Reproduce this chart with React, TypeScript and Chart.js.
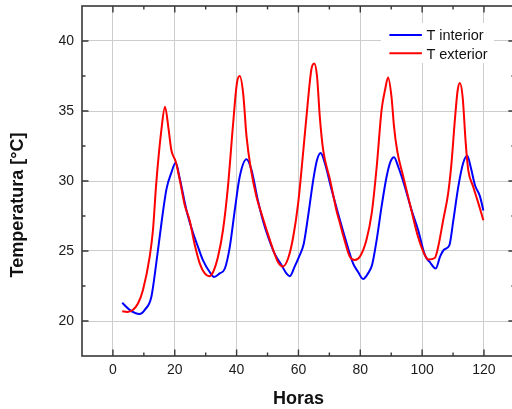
import React, { useEffect, useRef } from "react";
import { Chart, registerables } from "chart.js";

Chart.register(...registerables);

const interiorHours = [3.0, 5.4, 8.6, 10.3, 12.4, 14.0, 15.7, 17.3, 18.9, 20.3, 21.6, 23.8, 25.9, 27.5, 29.1, 31.3, 32.7, 34.5, 36.2, 37.8, 39.4, 41.0, 43.2, 44.8, 46.9, 48.6, 50.2, 52.3, 54.5, 56.1, 57.2, 58.8, 60.2, 61.7, 63.1, 64.8, 66.0, 67.2, 68.5, 70.7, 72.8, 75.0, 77.7, 79.3, 80.9, 82.5, 83.8, 85.3, 86.9, 88.5, 89.8, 90.9, 92.3, 94.4, 96.6, 98.7, 100.9, 102.5, 104.4, 105.8, 107.1, 108.8, 110.1, 111.7, 113.3, 114.6, 115.7, 117.1, 118.7, 119.8];
const interiorTemps = [21.3, 20.8, 20.5, 20.8, 21.7, 24.1, 27.0, 29.4, 30.6, 31.3, 30.2, 27.9, 26.3, 25.3, 24.35, 23.5, 23.15, 23.4, 23.75, 25.3, 27.9, 30.3, 31.55, 30.8, 28.6, 27.1, 26.0, 24.8, 24.0, 23.4, 23.2, 23.9, 24.6, 25.5, 27.45, 30.1, 31.5, 32.0, 31.3, 29.4, 27.7, 26.0, 24.1, 23.5, 23.0, 23.4, 24.0, 25.8, 28.2, 30.3, 31.4, 31.7, 31.0, 29.6, 27.9, 26.5, 24.7, 24.2, 23.75, 24.6, 25.1, 25.4, 27.2, 29.6, 31.3, 31.8, 31.0, 29.7, 28.9, 27.9];

const exteriorHours = [3.0, 4.6, 6.5, 8.1, 9.7, 11.9, 12.95, 14.0, 15.7, 16.85, 18.0, 18.9, 20.3, 21.6, 23.2, 24.8, 26.4, 28.1, 29.7, 31.1, 32.4, 34.0, 35.6, 37.2, 38.8, 40.1, 41.0, 42.1, 43.2, 44.5, 46.4, 48.0, 49.7, 51.8, 53.4, 55.0, 56.7, 58.3, 59.9, 61.5, 63.1, 64.2, 65.1, 66.0, 66.9, 68.0, 70.2, 72.3, 73.4, 75.0, 76.6, 78.2, 79.9, 82.0, 83.7, 85.3, 86.9, 88.0, 89.0, 90.1, 90.9, 91.9, 93.9, 96.0, 98.7, 100.9, 102.0, 104.1, 105.2, 106.8, 108.4, 109.5, 110.6, 111.5, 112.2, 113.1, 114.1, 114.9, 116.5, 118.2, 119.8];
const exteriorTemps = [20.7, 20.65, 20.8, 21.25, 22.2, 24.6, 26.5, 29.8, 33.7, 35.3, 33.7, 32.2, 31.4, 30.1, 28.3, 27.2, 25.5, 24.1, 23.4, 23.2, 23.5, 24.6, 26.5, 29.6, 33.9, 37.0, 37.5, 36.3, 33.2, 31.0, 28.9, 27.7, 26.5, 25.1, 24.2, 23.9, 24.5, 26.0, 28.4, 32.0, 35.8, 38.0, 38.4, 37.5, 34.6, 32.2, 30.1, 27.9, 27.0, 25.7, 24.6, 24.35, 24.6, 25.8, 27.7, 31.0, 35.1, 36.5, 37.4, 36.0, 33.9, 32.2, 30.3, 28.4, 26.0, 24.7, 24.4, 24.5, 25.3, 27.2, 29.1, 31.3, 34.4, 36.5, 37.0, 36.0, 32.7, 30.8, 29.6, 28.4, 27.2];

const xTickValues = [0, 20, 40, 60, 80, 100, 120];
const xMinorValues = [10, 30, 50, 70, 90, 110];
const yTickValues = [20, 25, 30, 35, 40];
const yMinorValues = [22.5, 27.5, 32.5, 37.5];
const seriesLabels = ["T interior", "T exterior"];
const seriesColors = ["#0000ff", "#ff0000"];
const xTitle = "Horas";
const yTitle = "Temperatura [°C]";

const FONT = "'Liberation Sans', Arial, sans-serif";

const framePlugin = {
  id: "frameAndLegend",
  afterDatasetsDraw(chart: any) {
    const { ctx, chartArea: a, scales } = chart;
    const x = scales.x;
    const y = scales.y;
    ctx.save();

    // legend box
    ctx.fillStyle = "#ffffff";
    ctx.fillRect(a.right - 134, 23, 113, 40);
    ctx.font = `14.5px ${FONT}`;
    ctx.textAlign = "left";
    ctx.textBaseline = "alphabetic";
    const rows = [35, 53.3];
    for (let i = 0; i < 2; i++) {
      ctx.strokeStyle = seriesColors[i];
      ctx.lineWidth = 2;
      ctx.beginPath();
      ctx.moveTo(a.right - 125.5, rows[i]);
      ctx.lineTo(a.right - 93, rows[i]);
      ctx.stroke();
      ctx.fillStyle = "#111111";
      ctx.fillText(seriesLabels[i], a.right - 88.5, rows[i] + 5.4);
    }

    // frame
    ctx.strokeStyle = "#383838";
    ctx.lineWidth = 1.6;
    ctx.strokeRect(a.left, a.top, a.right - a.left, a.bottom - a.top);

    const major = 6.5;
    const minor = 3.5;
    ctx.lineWidth = 1.4;
    ctx.beginPath();
    const xt = (v: number, len: number) => {
      const px = x.getPixelForValue(v);
      ctx.moveTo(px, a.bottom);
      ctx.lineTo(px, a.bottom - len);
      ctx.moveTo(px, a.top);
      ctx.lineTo(px, a.top + len);
    };
    const yt = (v: number, len: number) => {
      const py = y.getPixelForValue(v);
      ctx.moveTo(a.left, py);
      ctx.lineTo(a.left + len, py);
      ctx.moveTo(a.right, py);
      ctx.lineTo(a.right - len, py);
    };
    xTickValues.forEach((v) => xt(v, major));
    xMinorValues.forEach((v) => xt(v, minor));
    yTickValues.forEach((v) => yt(v, major));
    yMinorValues.forEach((v) => yt(v, minor));
    ctx.stroke();

    // axis titles
    ctx.fillStyle = "#111111";
    ctx.font = `bold 18px ${FONT}`;
    ctx.textAlign = "center";
    ctx.textBaseline = "alphabetic";
    ctx.fillText(xTitle, (a.left + a.right) / 2, 404);
    ctx.translate(23.3, 205);
    ctx.rotate(-Math.PI / 2);
    ctx.fillText(yTitle, 0, 0);
    ctx.restore();
  },
};

export default function App() {
  const ref = useRef<HTMLCanvasElement>(null);

  useEffect(() => {
    const canvas = ref.current;
    if (!canvas) return;
    const chart = new Chart(canvas, {
      type: "line",
      data: {
        datasets: [
          {
            label: seriesLabels[0],
            data: interiorHours.map((h, i) => ({ x: h, y: interiorTemps[i] })),
            borderColor: seriesColors[0],
            backgroundColor: seriesColors[0],
            borderWidth: 2,
            pointRadius: 0,
            cubicInterpolationMode: "monotone",
            fill: false,
            order: 2,
          },
          {
            label: seriesLabels[1],
            data: exteriorHours.map((h, i) => ({ x: h, y: exteriorTemps[i] })),
            borderColor: seriesColors[1],
            backgroundColor: seriesColors[1],
            borderWidth: 2,
            pointRadius: 0,
            cubicInterpolationMode: "monotone",
            fill: false,
            order: 1,
          },
        ],
      },
      options: {
        responsive: false,
        animation: false,
        devicePixelRatio: 1,
        layout: { padding: { left: 0, top: 6, right: 3.1, bottom: 0 } },
        plugins: { legend: { display: false }, tooltip: { enabled: false } },
        scales: {
          x: {
            type: "linear",
            min: -10,
            max: 130,
            afterBuildTicks: (s: any) => {
              s.ticks = xTickValues.map((v) => ({ value: v }));
            },
            afterFit: (s: any) => {
              s.height = 53;
              s.paddingLeft = 0;
              s.paddingRight = 0;
            },
            grid: { color: "#cdcdcd", lineWidth: 1, drawTicks: false },
            border: { display: false },
            ticks: {
              padding: 6,
              color: "#1a1a1a",
              font: { family: FONT, size: 14 },
              maxRotation: 0,
              autoSkip: false,
            },
          },
          y: {
            type: "linear",
            min: 17.5,
            max: 42.5,
            afterBuildTicks: (s: any) => {
              s.ticks = yTickValues.map((v) => ({ value: v }));
            },
            afterFit: (s: any) => {
              s.width = 82;
              s.paddingTop = 0;
              s.paddingBottom = 0;
            },
            grid: { color: "#cdcdcd", lineWidth: 1, drawTicks: false },
            border: { display: false },
            ticks: {
              padding: 8,
              color: "#1a1a1a",
              font: { family: FONT, size: 14 },
              autoSkip: false,
            },
          },
        },
      },
      plugins: [framePlugin],
    } as any);
    return () => chart.destroy();
  }, []);

  return (
    <div
      style={{
        position: "absolute",
        left: 0,
        top: 0,
        width: 512,
        height: 409,
        overflow: "hidden",
        background: "#ffffff",
      }}
    >
      <canvas ref={ref} width={518} height={409} style={{ display: "block" }} />
    </div>
  );
}
